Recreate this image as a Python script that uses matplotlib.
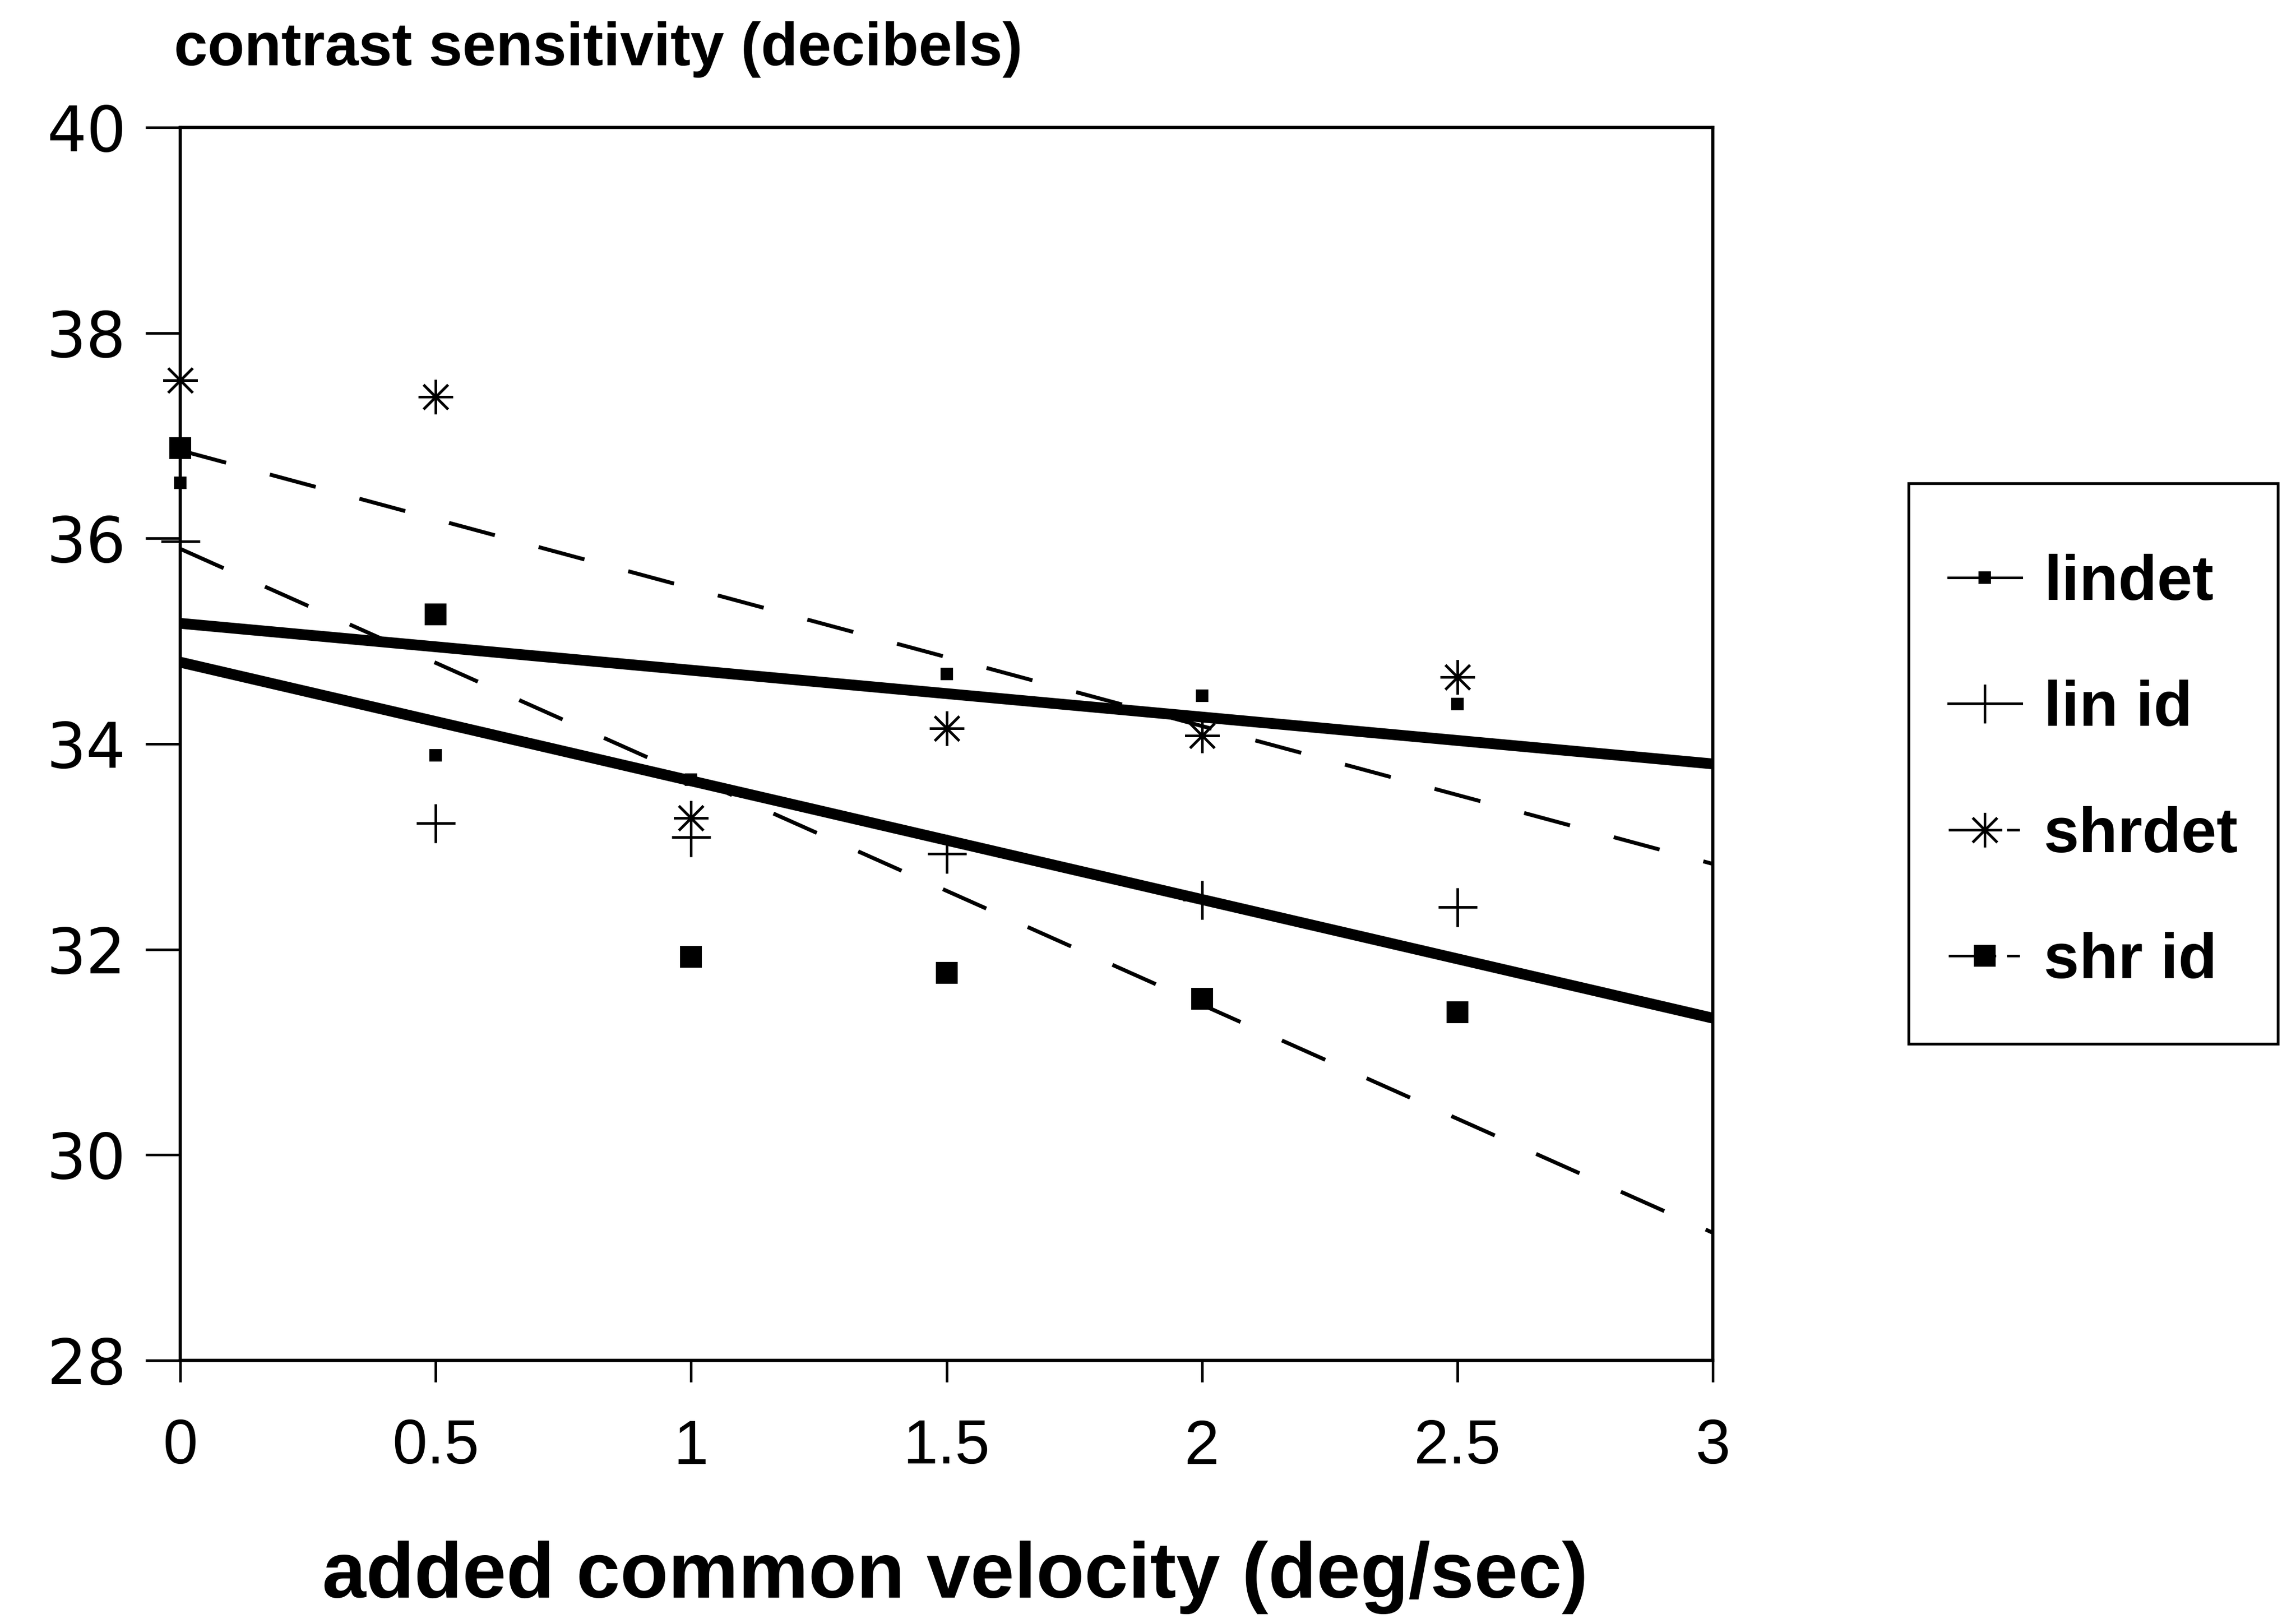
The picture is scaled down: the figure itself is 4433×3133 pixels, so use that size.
import numpy as np
import matplotlib
matplotlib.use("Agg")
import matplotlib.pyplot as plt
from matplotlib.lines import Line2D
from matplotlib.patches import Rectangle

# ---- data ----
velocity = [0, 0.5, 1, 1.5, 2, 2.5]
lindet = [36.54, 33.89, 33.65, 34.68, 34.47, 34.39]
lin_id = [35.97, 33.23, 33.09, 32.93, 32.48, 32.41]
shrdet = [37.54, 37.38, 33.28, 34.15, 34.08, 34.65]
shr_id = [36.88, 35.26, 31.93, 31.77, 31.52, 31.39]

x_ticks = [0, 0.5, 1, 1.5, 2, 2.5, 3]
x_tick_labels = ['0', '0.5', '1', '1.5', '2', '2.5', '3']
y_ticks = [28, 30, 32, 34, 36, 38, 40]

plt.rcParams['font.family'] = ['Liberation Sans', 'DejaVu Sans']
plt.rcParams['lines.scale_dashes'] = False

W, H = 4433, 3133
DPI = 300
fig = plt.figure(figsize=(W / DPI, H / DPI), dpi=DPI)
fig.patch.set_facecolor('white')

ax = fig.add_axes([348 / W, 1 - 2626 / H, (3307 - 348) / W, (2626 - 246) / H])
ax.set_xlim(0, 3)
ax.set_ylim(28, 40)

# regression lines (least squares over each series)
xfit = np.array([0, 3])
fits = [
    (lindet, dict(color='black', lw=5, ls='-')),
    (lin_id, dict(color='black', lw=5, ls='-')),
    (shrdet, dict(color='black', lw=1.8, dashes=(22, 21))),
    (shr_id, dict(color='black', lw=1.8, dashes=(22, 21))),
]
for ys, style in fits:
    b, a = np.polyfit(velocity, ys, 1)
    ax.plot(xfit, a + b * xfit, solid_capstyle='butt', dash_capstyle='butt', zorder=2, **style)

# data points
asterisk = (8, 2, 0)
ax.plot(velocity, lindet, ls='none', marker='s', ms=5, color='black', clip_on=False, zorder=3)
ax.plot(velocity, lin_id, ls='none', marker='+', ms=18, mew=1.2, color='black', clip_on=False, zorder=3)
ax.plot(velocity, shrdet, ls='none', marker=asterisk, ms=16, mew=1.2, color='black', clip_on=False, zorder=3)
ax.plot(velocity, shr_id, ls='none', marker='s', ms=9.3, color='black', clip_on=False, zorder=3)

# axes styling
for sp in ax.spines.values():
    sp.set_linewidth(1.5)
    sp.set_color('black')
ax.set_xticks(x_ticks)
ax.set_xticklabels(x_tick_labels)
ax.set_yticks(y_ticks)
ax.tick_params(axis='x', direction='out', length=10, width=1.2, pad=17, labelsize=29)
ax.tick_params(axis='y', direction='out', length=16, width=1.2, pad=9, labelsize=29)
for lab in ax.get_yticklabels():
    lab.set_family('DejaVu Sans')

fig.text(336 / W, 1 - 95 / H, 'contrast sensitivity (decibels)', fontsize=28,
         fontweight='bold', ha='left', va='center')
fig.text(0.416, 1 - 3045 / H, 'added common velocity (deg/sec)', fontsize=36.5,
         fontweight='bold', ha='center', va='center')

# legend: content centred in a fixed box
handles = [
    Line2D([], [], color='black', lw=1.2, marker='s', ms=5),
    Line2D([], [], color='black', lw=1.2, marker='+', ms=18, mew=1.2),
    Line2D([], [], color='black', lw=1.2, marker=asterisk, ms=16, mew=1.2, dashes=(22, 5, 6, 20)),
    Line2D([], [], color='black', lw=1.2, marker='s', ms=9.3, dashes=(22, 5, 6, 20)),
]
labels = ['lindet', 'lin id', 'shrdet', 'shr id']
bx0, by0, bx1, by1 = 3685, 933, 4398, 2015
fig.legend(handles, labels, loc='center',
           bbox_to_anchor=((bx0 + bx1) / 2 / W, 1 - ((by0 + by1) / 2 + 17) / H),
           bbox_transform=fig.transFigure, frameon=False, borderpad=0,
           labelspacing=1.05, handlelength=1.15, handletextpad=0.35,
           prop={'family': 'Liberation Sans', 'weight': 'bold', 'size': 29.5})
fig.patches.append(Rectangle((bx0 / W, 1 - by1 / H), (bx1 - bx0) / W, (by1 - by0) / H,
                             transform=fig.transFigure, fill=False, edgecolor='black', lw=1.3))

fig.savefig('out.png', dpi=DPI, facecolor='white')
